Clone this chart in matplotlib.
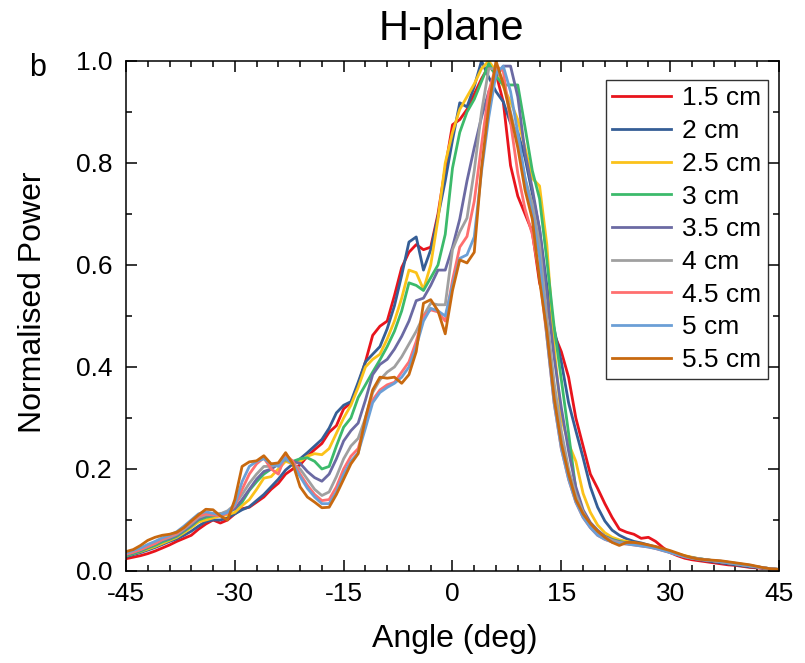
import matplotlib
matplotlib.use("Agg")
import matplotlib.pyplot as plt
from matplotlib.ticker import MultipleLocator, FormatStrFormatter

plt.rcParams['font.family'] = ['Liberation Sans', 'DejaVu Sans']
plt.rcParams['axes.unicode_minus'] = False

angle = list(range(-45, 46))

labels = ["1.5 cm", "2 cm", "2.5 cm", "3 cm", "3.5 cm", "4 cm", "4.5 cm", "5 cm", "5.5 cm"]
colors = ['#e8141c', '#355e96', '#fbc21a', '#3cba6b', '#6b6aa3', '#a0a0a0', '#ff6f6f', '#6b9fd6', '#c8690f']

p_15 = [0.024, 0.027, 0.030, 0.034, 0.039, 0.045, 0.051, 0.058, 0.064, 0.070,
        0.082, 0.092, 0.100, 0.094, 0.100, 0.112, 0.122, 0.125, 0.135, 0.145,
        0.160, 0.172, 0.190, 0.200, 0.208, 0.225, 0.238, 0.250, 0.272, 0.285,
        0.318, 0.330, 0.365, 0.410, 0.462, 0.480, 0.490, 0.540, 0.595, 0.625,
        0.640, 0.630, 0.635, 0.700, 0.790, 0.875, 0.885, 0.905, 0.935, 0.965,
        0.990, 0.975, 0.920, 0.795, 0.735, 0.700, 0.665, 0.565, 0.515, 0.465,
        0.430, 0.380, 0.300, 0.245, 0.190, 0.162, 0.132, 0.105, 0.082, 0.076,
        0.072, 0.064, 0.066, 0.058, 0.046, 0.036, 0.030, 0.025, 0.022, 0.020,
        0.018, 0.016, 0.014, 0.012, 0.011, 0.009, 0.007, 0.006, 0.005, 0.004,
        0.003]

p_20 = [0.028, 0.032, 0.036, 0.041, 0.046, 0.052, 0.058, 0.063, 0.070, 0.078,
        0.088, 0.097, 0.100, 0.100, 0.104, 0.112, 0.120, 0.126, 0.138, 0.150,
        0.165, 0.180, 0.198, 0.210, 0.220, 0.232, 0.245, 0.258, 0.280, 0.310,
        0.325, 0.332, 0.370, 0.410, 0.425, 0.440, 0.475, 0.520, 0.580, 0.645,
        0.655, 0.590, 0.630, 0.695, 0.765, 0.845, 0.918, 0.910, 0.950, 1.000,
        0.968, 0.940, 0.920, 0.878, 0.860, 0.810, 0.740, 0.670, 0.560, 0.475,
        0.410, 0.330, 0.275, 0.222, 0.165, 0.125, 0.098, 0.080, 0.070, 0.063,
        0.058, 0.055, 0.051, 0.047, 0.042, 0.037, 0.032, 0.028, 0.025, 0.022,
        0.020, 0.018, 0.016, 0.014, 0.012, 0.010, 0.008, 0.007, 0.005, 0.004,
        0.003]

p_25 = [0.030, 0.034, 0.038, 0.043, 0.048, 0.054, 0.060, 0.066, 0.075, 0.085,
        0.096, 0.100, 0.104, 0.108, 0.110, 0.115, 0.128, 0.140, 0.160, 0.182,
        0.185, 0.200, 0.215, 0.210, 0.215, 0.225, 0.230, 0.228, 0.240, 0.270,
        0.300, 0.325, 0.360, 0.400, 0.415, 0.425, 0.455, 0.490, 0.535, 0.590,
        0.585, 0.552, 0.600, 0.690, 0.800, 0.860, 0.905, 0.930, 0.955, 0.985,
        1.000, 0.980, 0.950, 0.920, 0.885, 0.830, 0.770, 0.755, 0.640, 0.440,
        0.300, 0.250, 0.215, 0.152, 0.115, 0.090, 0.075, 0.066, 0.061, 0.058,
        0.055, 0.052, 0.049, 0.046, 0.042, 0.038, 0.034, 0.030, 0.027, 0.024,
        0.022, 0.020, 0.018, 0.016, 0.014, 0.012, 0.010, 0.008, 0.006, 0.004,
        0.003]

p_30 = [0.030, 0.034, 0.039, 0.045, 0.050, 0.057, 0.062, 0.068, 0.078, 0.088,
        0.100, 0.105, 0.108, 0.112, 0.115, 0.122, 0.135, 0.158, 0.175, 0.190,
        0.200, 0.210, 0.218, 0.215, 0.220, 0.222, 0.215, 0.200, 0.205, 0.245,
        0.282, 0.300, 0.340, 0.365, 0.390, 0.414, 0.440, 0.470, 0.510, 0.565,
        0.560, 0.550, 0.575, 0.600, 0.660, 0.790, 0.860, 0.900, 0.925, 0.960,
        0.995, 0.970, 0.953, 0.953, 0.953, 0.870, 0.785, 0.730, 0.610, 0.480,
        0.375, 0.270, 0.160, 0.115, 0.090, 0.077, 0.068, 0.062, 0.058, 0.055,
        0.053, 0.051, 0.048, 0.045, 0.041, 0.037, 0.033, 0.029, 0.026, 0.024,
        0.022, 0.020, 0.018, 0.016, 0.014, 0.012, 0.010, 0.008, 0.006, 0.004,
        0.003]

p_35 = [0.032, 0.036, 0.041, 0.047, 0.053, 0.060, 0.064, 0.070, 0.080, 0.090,
        0.102, 0.108, 0.110, 0.112, 0.115, 0.122, 0.140, 0.160, 0.180, 0.195,
        0.200, 0.210, 0.222, 0.215, 0.211, 0.195, 0.183, 0.176, 0.190, 0.220,
        0.255, 0.275, 0.290, 0.335, 0.385, 0.405, 0.415, 0.435, 0.460, 0.490,
        0.530, 0.535, 0.560, 0.590, 0.590, 0.635, 0.690, 0.765, 0.830, 0.890,
        0.940, 0.970, 0.990, 0.990, 0.930, 0.820, 0.750, 0.670, 0.545, 0.420,
        0.320, 0.235, 0.165, 0.120, 0.095, 0.080, 0.068, 0.061, 0.057, 0.054,
        0.052, 0.050, 0.048, 0.045, 0.041, 0.037, 0.033, 0.029, 0.026, 0.024,
        0.022, 0.020, 0.019, 0.017, 0.015, 0.013, 0.011, 0.008, 0.006, 0.004,
        0.003]

p_40 = [0.033, 0.037, 0.042, 0.048, 0.054, 0.061, 0.066, 0.072, 0.082, 0.093,
        0.105, 0.110, 0.110, 0.112, 0.118, 0.130, 0.150, 0.172, 0.190, 0.205,
        0.205, 0.210, 0.220, 0.210, 0.200, 0.180, 0.160, 0.148, 0.155, 0.185,
        0.220, 0.245, 0.260, 0.300, 0.350, 0.375, 0.390, 0.400, 0.420, 0.445,
        0.470, 0.500, 0.525, 0.522, 0.522, 0.630, 0.665, 0.692, 0.785, 0.900,
        0.985, 0.985, 0.960, 0.900, 0.840, 0.770, 0.720, 0.640, 0.500, 0.370,
        0.275, 0.200, 0.150, 0.115, 0.090, 0.075, 0.066, 0.060, 0.056, 0.054,
        0.052, 0.050, 0.048, 0.045, 0.041, 0.037, 0.033, 0.029, 0.026, 0.024,
        0.022, 0.020, 0.019, 0.017, 0.015, 0.013, 0.011, 0.008, 0.006, 0.004,
        0.003]

p_45 = [0.033, 0.037, 0.042, 0.048, 0.054, 0.062, 0.068, 0.074, 0.085, 0.096,
        0.108, 0.112, 0.110, 0.108, 0.113, 0.128, 0.160, 0.190, 0.210, 0.222,
        0.200, 0.190, 0.228, 0.215, 0.190, 0.168, 0.150, 0.138, 0.140, 0.165,
        0.200, 0.225, 0.240, 0.290, 0.335, 0.355, 0.365, 0.370, 0.390, 0.410,
        0.450, 0.500, 0.512, 0.508, 0.490, 0.570, 0.635, 0.656, 0.725, 0.835,
        0.940, 0.990, 0.980, 0.880, 0.780, 0.710, 0.660, 0.580, 0.460, 0.330,
        0.240, 0.180, 0.135, 0.105, 0.085, 0.070, 0.062, 0.057, 0.054, 0.053,
        0.051, 0.049, 0.047, 0.044, 0.040, 0.036, 0.032, 0.028, 0.025, 0.023,
        0.021, 0.020, 0.018, 0.016, 0.014, 0.012, 0.010, 0.008, 0.006, 0.004,
        0.003]

p_50 = [0.035, 0.040, 0.045, 0.052, 0.058, 0.065, 0.070, 0.077, 0.088, 0.100,
        0.112, 0.116, 0.113, 0.110, 0.115, 0.130, 0.175, 0.205, 0.215, 0.220,
        0.210, 0.205, 0.222, 0.210, 0.185, 0.162, 0.145, 0.132, 0.132, 0.155,
        0.190, 0.215, 0.232, 0.280, 0.330, 0.350, 0.360, 0.368, 0.380, 0.400,
        0.440, 0.490, 0.515, 0.510, 0.500, 0.560, 0.613, 0.620, 0.655, 0.783,
        0.890, 0.975, 0.990, 0.940, 0.860, 0.770, 0.700, 0.615, 0.460, 0.330,
        0.240, 0.180, 0.135, 0.105, 0.085, 0.070, 0.062, 0.057, 0.054, 0.053,
        0.051, 0.049, 0.047, 0.044, 0.040, 0.036, 0.032, 0.028, 0.025, 0.023,
        0.021, 0.020, 0.018, 0.016, 0.014, 0.012, 0.010, 0.008, 0.006, 0.004,
        0.003]

p_55 = [0.038, 0.042, 0.050, 0.060, 0.066, 0.070, 0.072, 0.076, 0.085, 0.098,
        0.110, 0.121, 0.120, 0.108, 0.100, 0.140, 0.205, 0.214, 0.216, 0.226,
        0.210, 0.212, 0.232, 0.210, 0.165, 0.145, 0.135, 0.124, 0.125, 0.150,
        0.180, 0.210, 0.230, 0.300, 0.355, 0.380, 0.378, 0.380, 0.368, 0.385,
        0.430, 0.525, 0.532, 0.510, 0.465, 0.550, 0.610, 0.604, 0.625, 0.790,
        0.910, 1.000, 0.955, 0.895, 0.830, 0.747, 0.690, 0.570, 0.470, 0.340,
        0.250, 0.190, 0.140, 0.112, 0.093, 0.078, 0.066, 0.056, 0.050, 0.056,
        0.056, 0.054, 0.051, 0.048, 0.044, 0.040, 0.035, 0.030, 0.026, 0.023,
        0.022, 0.021, 0.020, 0.018, 0.016, 0.014, 0.012, 0.009, 0.006, 0.004,
        0.003]

series = [p_15, p_20, p_25, p_30, p_35, p_40, p_45, p_50, p_55]

fig = plt.figure(figsize=(8.05, 6.63), dpi=100)
ax = fig.add_axes([0.1565, 0.1388, 0.8112, 0.7692])

for vals, lab, col in zip(series, labels, colors):
    ax.plot(angle, vals, color=col, lw=2.0, label=lab)

ax.set_xlim(-45, 45)
ax.set_ylim(0, 1.0)
ax.xaxis.set_major_locator(MultipleLocator(15))
ax.xaxis.set_minor_locator(MultipleLocator(3))
ax.yaxis.set_major_locator(MultipleLocator(0.2))
ax.yaxis.set_minor_locator(MultipleLocator(0.1))
ax.yaxis.set_major_formatter(FormatStrFormatter('%.1f'))
ax.tick_params(which='both', direction='in', top=True, right=True, width=1.1)
ax.tick_params(which='major', length=8, labelsize=19)
ax.tick_params(axis='y', which='major', pad=10)
ax.tick_params(axis='x', which='major', pad=8)
ax.tick_params(which='minor', length=4)
for s in ax.spines.values():
    s.set_linewidth(1.1)

ax.set_xlabel("Angle (deg)", fontsize=23)
ax.xaxis.set_label_coords(0.504, -0.103)
fig.text(0.041, 0.5445, "Normalised Power", fontsize=23, rotation=90,
         ha='center', va='center')
fig.text(0.561, 0.957, "H-plane", fontsize=30, ha='center', va='center')
fig.text(0.047, 0.897, "b", fontsize=22, ha='center', va='center')

leg = ax.legend(loc='upper right', bbox_to_anchor=(0.983, 0.963), fontsize=19,
                frameon=True, fancybox=False, edgecolor='black',
                handlelength=2.25, handletextpad=0.4, labelspacing=0.33,
                borderpad=0.25, borderaxespad=0)
leg.get_frame().set_linewidth(1.0)

fig.savefig("out.png", dpi=100)
